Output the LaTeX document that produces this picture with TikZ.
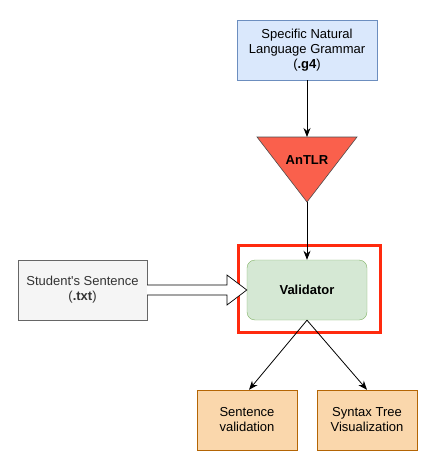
\documentclass[tikz,border=0pt]{standalone}
\usepackage{fontspec}
\setmainfont{Liberation Sans}
\usetikzlibrary{arrows.meta,calc}

\definecolor{blueFill}{HTML}{DAE8FC}
\definecolor{blueLine}{HTML}{6C8EBF}
\definecolor{greenFill}{HTML}{D5E8D4}
\definecolor{greenLine}{HTML}{82B366}
\definecolor{greyFill}{HTML}{F5F5F5}
\definecolor{greyLine}{HTML}{666666}
\definecolor{greyText}{HTML}{333333}
\definecolor{orangeFill}{HTML}{FAD7AC}
\definecolor{orangeLine}{HTML}{B46504}
\definecolor{antlrFill}{HTML}{FA604C}
\definecolor{markRed}{HTML}{FF2A0E}

\tikzset{
  box/.style={draw,rectangle,minimum width=140pt,minimum height=60pt,align=center,
    font=\fontsize{13}{15}\selectfont,inner sep=0pt},
  outbox/.style={box,fill=orangeFill,draw=orangeLine,minimum width=100pt},
  link/.style={-{Stealth[length=9pt,width=7pt]},line width=0.8pt}
}

\begin{document}
\begin{tikzpicture}[x=1pt,y=-1pt]

\useasboundingbox (0,0) rectangle (438,461);

% input grammar
\node[box,fill=blueFill,draw=blueLine] (grammar) at (307,50)
  {Specific Natural\\Language Grammar\\(\textbf{.g4})};

% the parser generator
\coordinate (antlrtop) at (307,137);
\coordinate (antlrtip) at (307,202);
\draw[fill=antlrFill,draw=black!70,line width=0.6pt] (257,137) -- (357,137) -- (antlrtip) -- cycle;
\node[font=\fontsize{13}{15}\selectfont\bfseries] (antlr) at (307,160) {AnTLR};

\draw[link] (grammar.south) -- (antlrtop);

% highlighted validator
\draw[markRed,line width=3pt] (238,245) rectangle (380,332);
\node[box,fill=greenFill,draw=greenLine,rounded corners=8pt,minimum width=120pt,
  font=\fontsize{13}{15}\selectfont\bfseries] (validator) at (307,290) {Validator};

\draw[link] (antlrtip) -- (validator.north);

% student input
\node[box,fill=greyFill,draw=greyLine,text=greyText,minimum width=129pt] (student) at (82.5,290)
  {Student\textquotesingle s Sentence\\(\textbf{.txt})};

\draw[fill=white,line width=0.7pt]
  ($(student.east)+(0,-5)$) -- (227,285) -- (227,275) -- (validator.west)
  -- (227,305) -- (227,295) -- ($(student.east)+(0,5)$);

% outputs
\node[outbox] (sentence) at (247,420) {Sentence\\validation};
\node[outbox] (tree) at (367,420) {Syntax Tree\\Visualization};

\draw[link] (validator.south) -- ($(sentence.north)+(2,0)$);
\draw[link] (validator.south) -- (tree.north);

\end{tikzpicture}
\end{document}
